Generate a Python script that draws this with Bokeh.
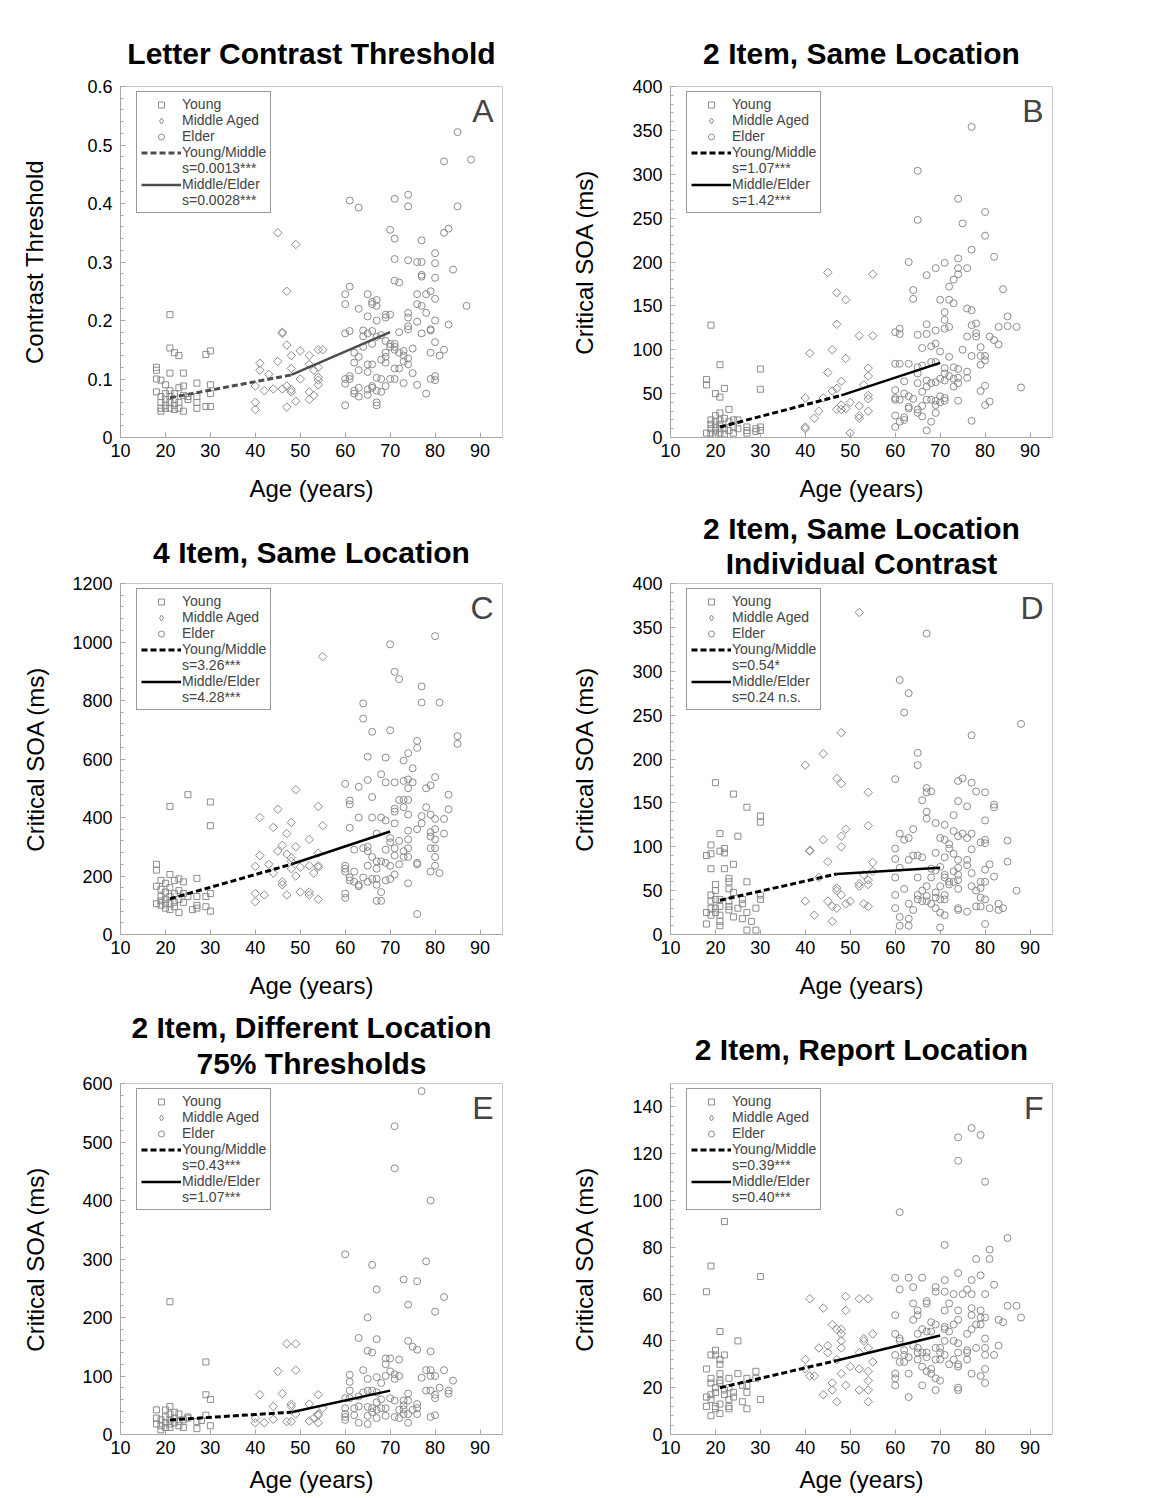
import math
from bokeh.plotting import figure
from bokeh.models import FixedTicker, Legend, LegendItem, Label, Range1d, Title
from bokeh.layouts import column, row
from bokeh.embed import file_html
from bokeh.resources import INLINE

FONT = "Liberation Sans"
GRAY = "#8c8c8c"
AGE_TICKS = [10, 20, 30, 40, 50, 60, 70, 80, 90]
NAN = float("nan")

# ---------------- Panel A: Letter Contrast Threshold ----------------
A_young = [(18,0.12),(18,0.115),(18,0.10),(18,0.078),(19,0.098),(19,0.07),(19,0.06),(19,0.05),(19,0.045),
           (20,0.09),(20,0.075),(20,0.065),(20,0.055),(20,0.05),(21,0.21),(21,0.153),(21,0.11),(21,0.08),
           (21,0.07),(21,0.06),(21,0.05),(22,0.145),(22,0.075),(22,0.065),(22,0.055),(22,0.048),(23,0.14),
           (23,0.085),(23,0.06),(23,0.05),(24,0.11),(24,0.088),(24,0.072),(24,0.045),(25,0.07),(25,0.065),
           (27,0.093),(27,0.07),(27,0.06),(27,0.05),(29,0.142),(29,0.053),(30,0.148),(30,0.09),(30,0.075),(30,0.053)]
A_middle = [(40,0.088),(40,0.06),(40,0.048),(41,0.127),(41,0.115),(42,0.08),(43,0.108),(44,0.083),(45,0.35),
            (45,0.13),(46,0.18),(46,0.178),(46,0.083),(47,0.25),(47,0.158),(47,0.088),(47,0.052),(48,0.14),
            (48,0.118),(48,0.082),(48,0.078),(49,0.33),(49,0.062),(50,0.148),(50,0.1),(52,0.14),(52,0.125),
            (52,0.078),(52,0.065),(53,0.115),(53,0.072),(54,0.15),(54,0.12),(54,0.103),(54,0.098),(54,0.09),(55,0.15)]
A_elder = [(60,0.245),(60,0.228),(60,0.178),(60,0.1),(60,0.092),(60,0.055),(61,0.405),(61,0.258),(61,0.182),
           (61,0.105),(61,0.1),(62,0.145),(62,0.128),(62,0.08),(62,0.075),(63,0.393),(63,0.22),(63,0.138),
           (63,0.115),(63,0.085),(63,0.07),(64,0.183),(64,0.173),(64,0.155),(65,0.245),(65,0.207),(65,0.178),
           (65,0.125),(65,0.112),(65,0.082),(65,0.073),(66,0.232),(66,0.228),(66,0.182),(66,0.16),(66,0.125),
           (66,0.088),(66,0.085),(67,0.235),(67,0.225),(67,0.2),(67,0.172),(67,0.102),(67,0.08),(67,0.06),
           (67,0.055),(68,0.175),(68,0.133),(68,0.1),(68,0.078),(69,0.21),(69,0.205),(69,0.165),(69,0.145),
           (69,0.138),(69,0.128),(69,0.088),(70,0.355),(70,0.21),(70,0.16),(70,0.155),(70,0.1),(71,0.408),
           (71,0.34),(71,0.305),(71,0.268),(71,0.16),(71,0.155),(71,0.15),(71,0.118),(71,0.1),(72,0.265),
           (72,0.18),(72,0.145),(72,0.118),(73,0.148),(73,0.14),(73,0.13),(73,0.093),(74,0.415),(74,0.395),
           (74,0.303),(74,0.213),(74,0.205),(74,0.19),(74,0.185),(74,0.135),(74,0.125),(75,0.152),(75,0.11),
           (76,0.3),(76,0.245),(76,0.228),(76,0.198),(76,0.09),(77,0.337),(77,0.3),(77,0.278),(77,0.275),
           (77,0.225),(77,0.178),(78,0.245),(78,0.213),(78,0.075),(79,0.25),(79,0.185),(79,0.183),(79,0.145),
           (79,0.1),(80,0.315),(80,0.298),(80,0.273),(80,0.237),(80,0.2),(80,0.163),(80,0.105),(80,0.098),
           (81,0.14),(82,0.472),(82,0.35),(82,0.15),(83,0.357),(83,0.193),(84,0.287),(85,0.522),(85,0.395),
           (87,0.225),(88,0.475)]
A_fit_ym = [(21,0.068),(48,0.107)]
A_fit_me = [(48,0.107),(70,0.18)]

# ---------------- Panel B: 2 Item, Same Location ----------------
B_young = [(18,66),(18,60),(18,5),(19,128),(19,20),(19,15),(19,10),(19,5),(20,50),(20,25),(20,18),(20,12),
           (20,8),(20,3),(21,83),(21,46),(21,28),(21,20),(21,15),(21,10),(21,5),(22,56),(22,22),(22,10),(22,4),
           (23,32),(23,18),(23,8),(24,20),(24,12),(24,5),(25,20),(25,10),(27,12),(27,8),(27,5),(29,10),(29,7),
           (30,78),(30,55),(30,12),(30,8)]
B_middle = [(40,45),(40,12),(40,10),(41,96),(42,22),(43,30),(44,45),(45,188),(45,74),(46,100),(46,53),
            (47,165),(47,129),(47,56),(47,32),(48,64),(48,37),(48,32),(49,157),(49,90),(49,33),(50,40),(50,5),
            (52,116),(52,36),(52,22),(52,25),(53,60),(54,79),(54,70),(54,48),(54,44),(54,30),(55,186),(55,116)]
B_elder = [(60,120),(60,84),(60,54),(60,45),(60,43),(60,25),(60,12),(61,124),(61,118),(61,84),(61,43),(61,18),
           (62,64),(62,50),(62,23),(62,20),(63,200),(63,84),(63,47),(63,35),(63,33),(64,168),(64,158),(64,44),
           (65,304),(65,248),(65,117),(65,80),(65,73),(65,62),(65,32),(65,28),(66,102),(66,82),(66,52),(66,36),
           (66,24),(67,185),(67,129),(67,118),(67,65),(67,58),(67,43),(67,8),(68,104),(68,86),(68,62),(68,43),
           (68,18),(69,193),(69,122),(69,107),(69,86),(69,63),(69,42),(69,37),(69,28),(70,157),(70,98),(70,67),
           (70,47),(70,40),(71,199),(71,143),(71,134),(71,124),(71,79),(71,73),(71,65),(71,45),(71,42),(72,172),
           (72,157),(72,126),(72,92),(72,70),(73,180),(73,153),(73,80),(73,67),(73,58),(74,272),(74,204),
           (74,193),(74,186),(74,78),(74,68),(74,62),(74,42),(75,244),(75,100),(76,193),(76,147),(76,115),
           (76,75),(76,68),(77,354),(77,214),(77,145),(77,128),(77,93),(77,19),(78,130),(78,119),(78,115),
           (79,103),(79,93),(79,83),(79,53),(80,257),(80,230),(80,93),(80,88),(80,59),(80,37),(81,115),(81,41),
           (82,206),(82,111),(83,126),(83,106),(84,169),(85,138),(85,127),(87,126),(88,57)]
B_fit_ym = [(21,12),(48,48)]
B_fit_me = [(48,48),(70,85)]

# ---------------- Panel C: 4 Item, Same Location ----------------
C_young = [(18,240),(18,220),(18,165),(18,105),(19,185),(19,155),(19,130),(19,115),(19,100),(20,175),(20,145),
           (20,120),(20,105),(20,90),(21,438),(21,205),(21,160),(21,130),(21,105),(21,85),(22,185),(22,140),
           (22,110),(22,95),(23,190),(23,150),(23,120),(23,75),(24,180),(24,140),(24,110),(25,478),(25,130),
           (26,85),(27,192),(27,130),(27,100),(27,90),(29,130),(29,95),(30,453),(30,372),(30,140),(30,80)]
C_middle = [(40,233),(40,140),(40,112),(41,400),(41,270),(42,135),(43,240),(44,366),(44,210),(45,428),(45,285),
            (46,305),(46,180),(46,170),(47,345),(47,275),(47,135),(48,383),(48,262),(48,250),(48,225),(49,495),
            (49,300),(49,200),(50,230),(50,145),(52,325),(52,235),(52,145),(52,135),(53,210),(54,438),(54,278),
            (54,235),(54,230),(54,120),(55,950),(55,372)]
C_elder = [(60,515),(60,235),(60,225),(60,215),(60,140),(60,125),(61,458),(61,445),(61,365),(61,195),(61,185),
           (62,290),(62,215),(62,180),(63,505),(63,400),(63,165),(63,170),(64,790),(64,738),(64,295),(64,195),
           (65,608),(65,528),(65,300),(65,285),(65,235),(65,180),(66,693),(66,470),(66,400),(66,265),(66,190),
           (67,345),(67,250),(67,225),(67,190),(67,115),(67,170),(68,548),(68,400),(68,250),(68,145),(68,115),
           (69,605),(69,520),(69,390),(69,290),(69,245),(69,185),(70,992),(70,698),(70,330),(70,315),(70,235),
           (70,190),(71,898),(71,520),(71,430),(71,420),(71,380),(71,295),(71,270),(71,205),(72,873),(72,460),
           (72,320),(72,240),(73,595),(73,525),(73,460),(73,435),(73,285),(73,265),(74,620),(74,530),(74,500),
           (74,460),(74,410),(74,355),(74,325),(74,295),(74,265),(74,175),(75,568),(75,520),(76,662),(76,638),
           (76,360),(76,245),(76,240),(76,70),(77,848),(77,793),(77,405),(77,380),(78,500),(78,435),(79,510),
           (79,410),(79,350),(79,335),(79,295),(79,215),(80,1020),(80,538),(80,395),(80,360),(80,325),(80,295),
           (80,265),(80,235),(81,793),(81,210),(82,395),(82,345),(83,478),(83,428),(85,678),(85,652)]
C_fit_ym = [(21,122),(48,240)]
C_fit_me = [(48,240),(70,352)]

# ---------------- Panel D: 2 Item, Same Location, Individual Contrast ----------------
D_young = [(18,90),(18,25),(18,12),(19,102),(19,92),(19,75),(19,45),(19,38),(19,30),(19,22),(20,173),(20,57),
           (20,50),(20,40),(20,30),(20,25),(21,262),(21,115),(21,95),(21,40),(21,32),(21,22),(21,15),(21,10),
           (22,98),(22,93),(22,75),(23,64),(23,60),(23,52),(23,38),(23,32),(23,28),(24,160),(24,80),(24,48),
           (24,20),(25,112),(25,30),(26,40),(26,35),(26,18),(27,145),(27,60),(27,25),(27,5),(28,15),(29,30),
           (29,5),(30,135),(30,128),(30,45),(30,40)]
D_middle = [(40,193),(40,38),(41,96),(41,95),(42,22),(43,65),(44,206),(44,108),(45,83),(45,38),(46,32),(46,15),
            (47,178),(47,53),(47,50),(47,30),(48,230),(48,172),(48,112),(48,100),(48,45),(49,120),(49,35),
            (50,38),(52,367),(52,58),(52,55),(53,35),(53,68),(54,162),(54,124),(54,62),(54,57),(54,32),(55,82),(55,72)]
D_elder = [(60,177),(60,98),(60,86),(60,65),(60,45),(60,30),(61,290),(61,115),(61,76),(61,20),(61,10),(62,253),
           (62,108),(62,52),(63,275),(63,110),(63,85),(63,35),(63,18),(63,10),(64,120),(64,90),(64,28),(65,207),
           (65,193),(65,90),(65,65),(65,45),(65,40),(66,153),(66,88),(66,50),(66,38),(67,343),(67,167),(67,162),
           (67,140),(67,132),(67,55),(67,44),(67,38),(68,163),(68,75),(68,65),(68,35),(69,127),(69,93),(69,73),
           (69,48),(69,42),(69,30),(70,110),(70,77),(70,55),(70,40),(70,25),(70,8),(71,125),(71,108),(71,88),
           (71,68),(71,65),(71,45),(71,40),(71,22),(72,103),(72,98),(72,60),(72,57),(73,136),(73,118),(73,92),
           (73,72),(73,60),(74,175),(74,152),(74,112),(74,85),(74,76),(74,68),(74,62),(74,52),(74,30),(74,28),
           (75,178),(75,115),(76,146),(76,110),(76,85),(76,79),(76,26),(77,227),(77,173),(77,115),(77,97),
           (77,70),(77,55),(78,163),(78,50),(78,32),(79,105),(79,60),(79,53),(79,42),(79,32),(80,162),(80,130),
           (80,108),(80,104),(80,74),(80,60),(80,40),(80,12),(81,80),(81,30),(82,148),(82,145),(82,66),(83,35),
           (83,28),(84,30),(85,107),(85,83),(87,50),(88,240)]
D_fit_ym = [(21,39),(47,69)]
D_fit_me = [(47,69),(70,76)]

# ---------------- Panel E: 2 Item, Different Location, 75% Thresholds ----------------
E_young = [(18,42),(18,28),(18,18),(19,25),(19,15),(19,8),(20,42),(20,30),(20,20),(20,12),(21,227),(21,48),
           (21,35),(21,25),(21,18),(21,12),(22,38),(22,28),(22,20),(23,35),(23,22),(23,15),(24,25),(24,12),
           (25,30),(25,28),(27,22),(27,10),(28,24),(29,124),(29,68),(29,33),(30,60),(30,15)]
E_middle = [(40,28),(40,20),(41,68),(42,20),(44,48),(44,26),(45,108),(46,70),(47,155),(47,22),(48,52),(48,48),
            (48,22),(49,155),(49,110),(49,35),(52,52),(52,23),(53,28),(54,68),(54,35),(54,33),(54,20),(55,45)]
E_elder = [(60,308),(60,62),(60,45),(60,35),(60,30),(60,25),(61,102),(61,90),(61,75),(61,62),(62,45),(62,33),
           (63,165),(63,65),(63,48),(63,20),(64,110),(64,72),(65,200),(65,143),(65,95),(65,75),(65,47),(65,32),
           (65,18),(66,290),(66,140),(66,75),(66,45),(66,38),(67,248),(67,163),(67,98),(67,72),(67,55),(67,42),
           (67,28),(68,88),(68,60),(68,45),(69,130),(69,120),(69,100),(69,45),(69,32),(70,130),(70,108),(70,62),
           (71,527),(71,455),(71,103),(71,95),(71,58),(71,30),(72,128),(72,100),(72,42),(72,28),(73,265),(73,58),
           (73,50),(73,43),(73,35),(74,222),(74,160),(74,70),(74,58),(74,35),(74,20),(75,150),(75,42),(76,262),
           (76,145),(76,52),(76,45),(76,35),(77,587),(77,97),(78,296),(78,110),(78,75),(79,400),(79,142),
           (79,110),(79,100),(79,75),(79,30),(80,210),(80,100),(80,68),(80,62),(80,33),(81,80),(82,235),(82,110),
           (83,75),(83,70),(84,92)]
E_fit_ym = [(21,25),(48,38)]
E_fit_me = [(48,38),(70,75)]

# ---------------- Panel F: 2 Item, Report Location ----------------
F_young = [(18,61),(18,28),(18,16),(18,12),(19,72),(19,34),(19,24),(19,22),(19,17),(19,15),(19,8),(20,36),
           (20,34),(20,20),(20,18),(20,12),(20,11),(21,44),(21,32),(21,30),(21,26),(21,23),(21,22),(21,13),
           (21,9),(22,91),(22,34),(22,19),(22,17),(23,24),(23,20),(23,15),(23,12),(23,11),(24,18),(24,16),
           (25,40),(25,26),(26,21),(26,14),(27,24),(27,21),(27,18),(27,11),(29,27),(29,24),(30,67.5),(30,15)]
F_middle = [(40,32),(40,28),(41,58),(41,25),(42,25),(43,37),(44,54),(44,17),(45,38),(45,35),(46,47),(46,22),
            (46,19),(47,45),(47,32),(47,14),(48,45),(48,43),(48,40),(48,37),(48,26),(49,59),(49,53),(49,21),
            (50,29),(52,58),(52,35),(52,28),(52,19),(53,41),(53,40),(54,58),(54,37),(54,27),(54,23),(54,19),
            (54,14),(55,43),(55,31)]
F_elder = [(60,67),(60,51),(60,43),(60,34),(60,26),(60,24),(60,21),(61,95),(61,62),(61,41),(61,40),(61,31),
           (62,36),(62,34),(62,31),(63,67),(63,33),(63,26),(63,16),(64,63),(64,56),(64,49),(64,38),(65,53),
           (65,51),(65,43),(65,37),(65,35),(65,32),(66,67),(66,45),(66,35),(66,29),(66,21),(67,57),(67,56),
           (67,44),(67,35),(67,33),(67,27),(68,48),(68,44),(68,28),(68,26),(69,63),(69,61),(69,47),(69,37),
           (69,32),(69,24),(69,19),(70,37),(70,35),(70,32),(70,23),(71,81),(71,66),(71,61),(71,53),(71,46),
           (71,45),(71,40),(71,34),(72,56),(72,44),(72,30),(73,60),(73,47),(73,40),(73,32),(74,127),(74,117),
           (74,69),(74,53),(74,49),(74,39),(74,35),(74,30),(74,29),(74,20),(74,19),(75,60),(76,62),(76,43),
           (76,36),(76,35),(76,32),(77,131),(77,66),(77,60),(77,54),(77,51),(77,45),(77,26),(78,75),(78,47),
           (78,37),(79,128),(79,68),(79,53),(79,50),(79,47),(79,25),(80,108),(80,60),(80,50),(80,41),(80,37),
           (80,34),(80,28),(80,22),(81,79),(81,75),(82,64),(82,34),(83,49),(83,38),(84,48),(85,84),(85,55),
           (87,55),(88,50)]
F_fit_ym = [(21,20),(47,31.6)]
F_fit_me = [(47,31.6),(70,42.3)]

PANELS = [
    dict(title=["Letter Contrast Threshold"], letter="A", ylabel="Contrast Threshold", ymax=0.6,
         yticks=[0, 0.1, 0.2, 0.3, 0.4, 0.5, 0.6], young=A_young, middle=A_middle, elder=A_elder,
         fit1=A_fit_ym, fit2=A_fit_me, s1="s=0.0013***", s2="s=0.0028***", lc="#4d4d4d",
         border=(120, 66, 86, 70), yl_standoff=36, title_standoff=(33, 0), xl_standoff=15),
    dict(title=["2 Item, Same Location"], letter="B", ylabel="Critical SOA (ms)", ymax=400,
         yticks=[0, 50, 100, 150, 200, 250, 300, 350, 400], young=B_young, middle=B_middle, elder=B_elder,
         fit1=B_fit_ym, fit2=B_fit_me, s1="s=1.07***", s2="s=1.42***", lc="black",
         border=(102, 110, 86, 70), yl_standoff=31, title_standoff=(33, 0), xl_standoff=15),
    dict(title=["4 Item, Same Location"], letter="C", ylabel="Critical SOA (ms)", ymax=1200,
         yticks=[0, 200, 400, 600, 800, 1000, 1200], young=C_young, middle=C_middle, elder=C_elder,
         fit1=C_fit_ym, fit2=C_fit_me, s1="s=3.26***", s2="s=4.28***", lc="black",
         border=(120, 66, 76, 70), yl_standoff=20, title_standoff=(29, 0), xl_standoff=15),
    dict(title=["2 Item, Same Location", "Individual Contrast"], letter="D", ylabel="Critical SOA (ms)", ymax=400,
         yticks=[0, 50, 100, 150, 200, 250, 300, 350, 400], young=D_young, middle=D_middle, elder=D_elder,
         fit1=D_fit_ym, fit2=D_fit_me, s1="s=0.54*", s2="s=0.24 n.s.", lc="black",
         border=(102, 110, 76, 70), yl_standoff=31, title_standoff=(7, -6), xl_standoff=15),
    dict(title=["2 Item, Different Location", "75% Thresholds"], letter="E", ylabel="Critical SOA (ms)", ymax=600,
         yticks=[0, 100, 200, 300, 400, 500, 600], young=E_young, middle=E_middle, elder=E_elder,
         fit1=E_fit_ym, fit2=E_fit_me, s1="s=0.43***", s2="s=1.07***", lc="black",
         border=(120, 66, 79, 62), yl_standoff=30, title_standoff=(7, -5), xl_standoff=9),
    dict(title=["2 Item, Report Location"], letter="F", ylabel="Critical SOA (ms)", ymax=150,
         yticks=[0, 20, 40, 60, 80, 100, 120, 140], young=F_young, middle=F_middle, elder=F_elder,
         fit1=F_fit_ym, fit2=F_fit_me, s1="s=0.39***", s2="s=0.40***", lc="black",
         border=(102, 110, 79, 62), yl_standoff=31, title_standoff=(35, 0), xl_standoff=9),
]

FW, FH = 382, 351
XMIN, XMAX = 10, 95
LEG_H = 123


def xs(pts):
    return [a for a, _ in pts]


def ys(pts):
    return [b for _, b in pts]


def make_title(text, standoff):
    return Title(text=text, align="center", text_font=FONT, text_font_size="30px",
                 text_font_style="bold", text_color="black", standoff=standoff)


def make_panel(c):
    bl, br, bt, bb = c["border"]
    p = figure(frame_width=FW, frame_height=FH, x_range=Range1d(XMIN, XMAX), y_range=Range1d(0, c["ymax"]),
               output_backend="svg", toolbar_location=None, title=None,
               min_border_left=bl, min_border_right=br, min_border_top=bt, min_border_bottom=bb)
    p.grid.visible = False
    p.outline_line_color = "#c8c8c8"
    p.outline_line_width = 1

    # titles: the line nearest the frame is added first
    inner, outer = c["title_standoff"]
    for i, t in enumerate(reversed(c["title"])):
        p.add_layout(make_title(t, inner if i == 0 else outer), "above")

    for ax in (p.xaxis[0], p.yaxis[0]):
        ax.axis_line_color = "#a8a8a8"
        ax.major_tick_line_color = "#a8a8a8"
        ax.minor_tick_line_color = "#a8a8a8"
        ax.major_tick_in = 5
        ax.major_tick_out = 0
        ax.minor_tick_in = 3
        ax.minor_tick_out = 0
        ax.major_label_text_font = FONT
        ax.major_label_text_font_size = "18px"
        ax.major_label_text_color = "black"
        ax.axis_label_text_font = FONT
        ax.axis_label_text_font_size = "24px"
        ax.axis_label_text_font_style = "normal"
        ax.axis_label_text_color = "black"
    p.xaxis.ticker = FixedTicker(ticks=AGE_TICKS)
    p.xaxis.axis_label = "Age (years)"
    p.xaxis.major_label_standoff = 6
    p.xaxis.axis_label_standoff = c["xl_standoff"]
    step = c["yticks"][1] / 5
    p.yaxis.ticker = FixedTicker(ticks=c["yticks"],
                                 minor_ticks=[step * k for k in range(int(round(c["ymax"] / step)) + 1)])
    p.yaxis.axis_label = c["ylabel"]
    p.yaxis.major_label_standoff = 8
    p.yaxis.axis_label_standoff = c["yl_standoff"]

    style = dict(line_color=GRAY, fill_color=None, line_width=1)
    r_y = p.scatter(xs(c["young"]), ys(c["young"]), marker="square", size=6, **style)
    p.scatter(xs(c["middle"]), ys(c["middle"]), marker="square", angle=math.pi / 4, size=6, **style)
    r_m = p.scatter([NAN], [NAN], marker="diamond", size=9, **style)  # legend proxy for the diamonds
    r_e = p.scatter(xs(c["elder"]), ys(c["elder"]), marker="circle", size=7, **style)
    r_f1 = p.line(xs(c["fit1"]), ys(c["fit1"]), line_color=c["lc"], line_width=3, line_dash="6 3")
    r_f2 = p.line(xs(c["fit2"]), ys(c["fit2"]), line_color=c["lc"], line_width=2.5)
    r_b1 = p.line([NAN], [NAN], line_alpha=0)
    r_b2 = p.line([NAN], [NAN], line_alpha=0)

    legend = Legend(items=[
        LegendItem(label="Young", renderers=[r_y]),
        LegendItem(label="Middle Aged", renderers=[r_m]),
        LegendItem(label="Elder", renderers=[r_e]),
        LegendItem(label="Young/Middle", renderers=[r_f1]),
        LegendItem(label=c["s1"], renderers=[r_b1]),
        LegendItem(label="Middle/Elder", renderers=[r_f2]),
        LegendItem(label=c["s2"], renderers=[r_b2]),
    ], location=(16, FH - 4 - LEG_H))
    legend.label_text_font = FONT
    legend.label_text_font_size = "14px"
    legend.label_height = 15
    legend.glyph_height = 15
    legend.glyph_width = 40
    legend.label_standoff = 1
    legend.spacing = 0
    legend.padding = 4
    legend.margin = 0
    legend.border_line_color = "#333333"
    legend.border_line_width = 1.5
    legend.background_fill_alpha = 1
    p.add_layout(legend)

    p.add_layout(Label(x=XMAX - 9 * (XMAX - XMIN) / FW, y=c["ymax"] * (1 - 6 / FH), text=c["letter"],
                       text_align="right", text_baseline="top", text_font=FONT, text_font_size="32px"))
    return p


figs = [make_panel(c) for c in PANELS]
layout = column(row(figs[0], figs[1]), row(figs[2], figs[3]), row(figs[4], figs[5]))
open("out.html", "w").write(file_html(layout, INLINE))
